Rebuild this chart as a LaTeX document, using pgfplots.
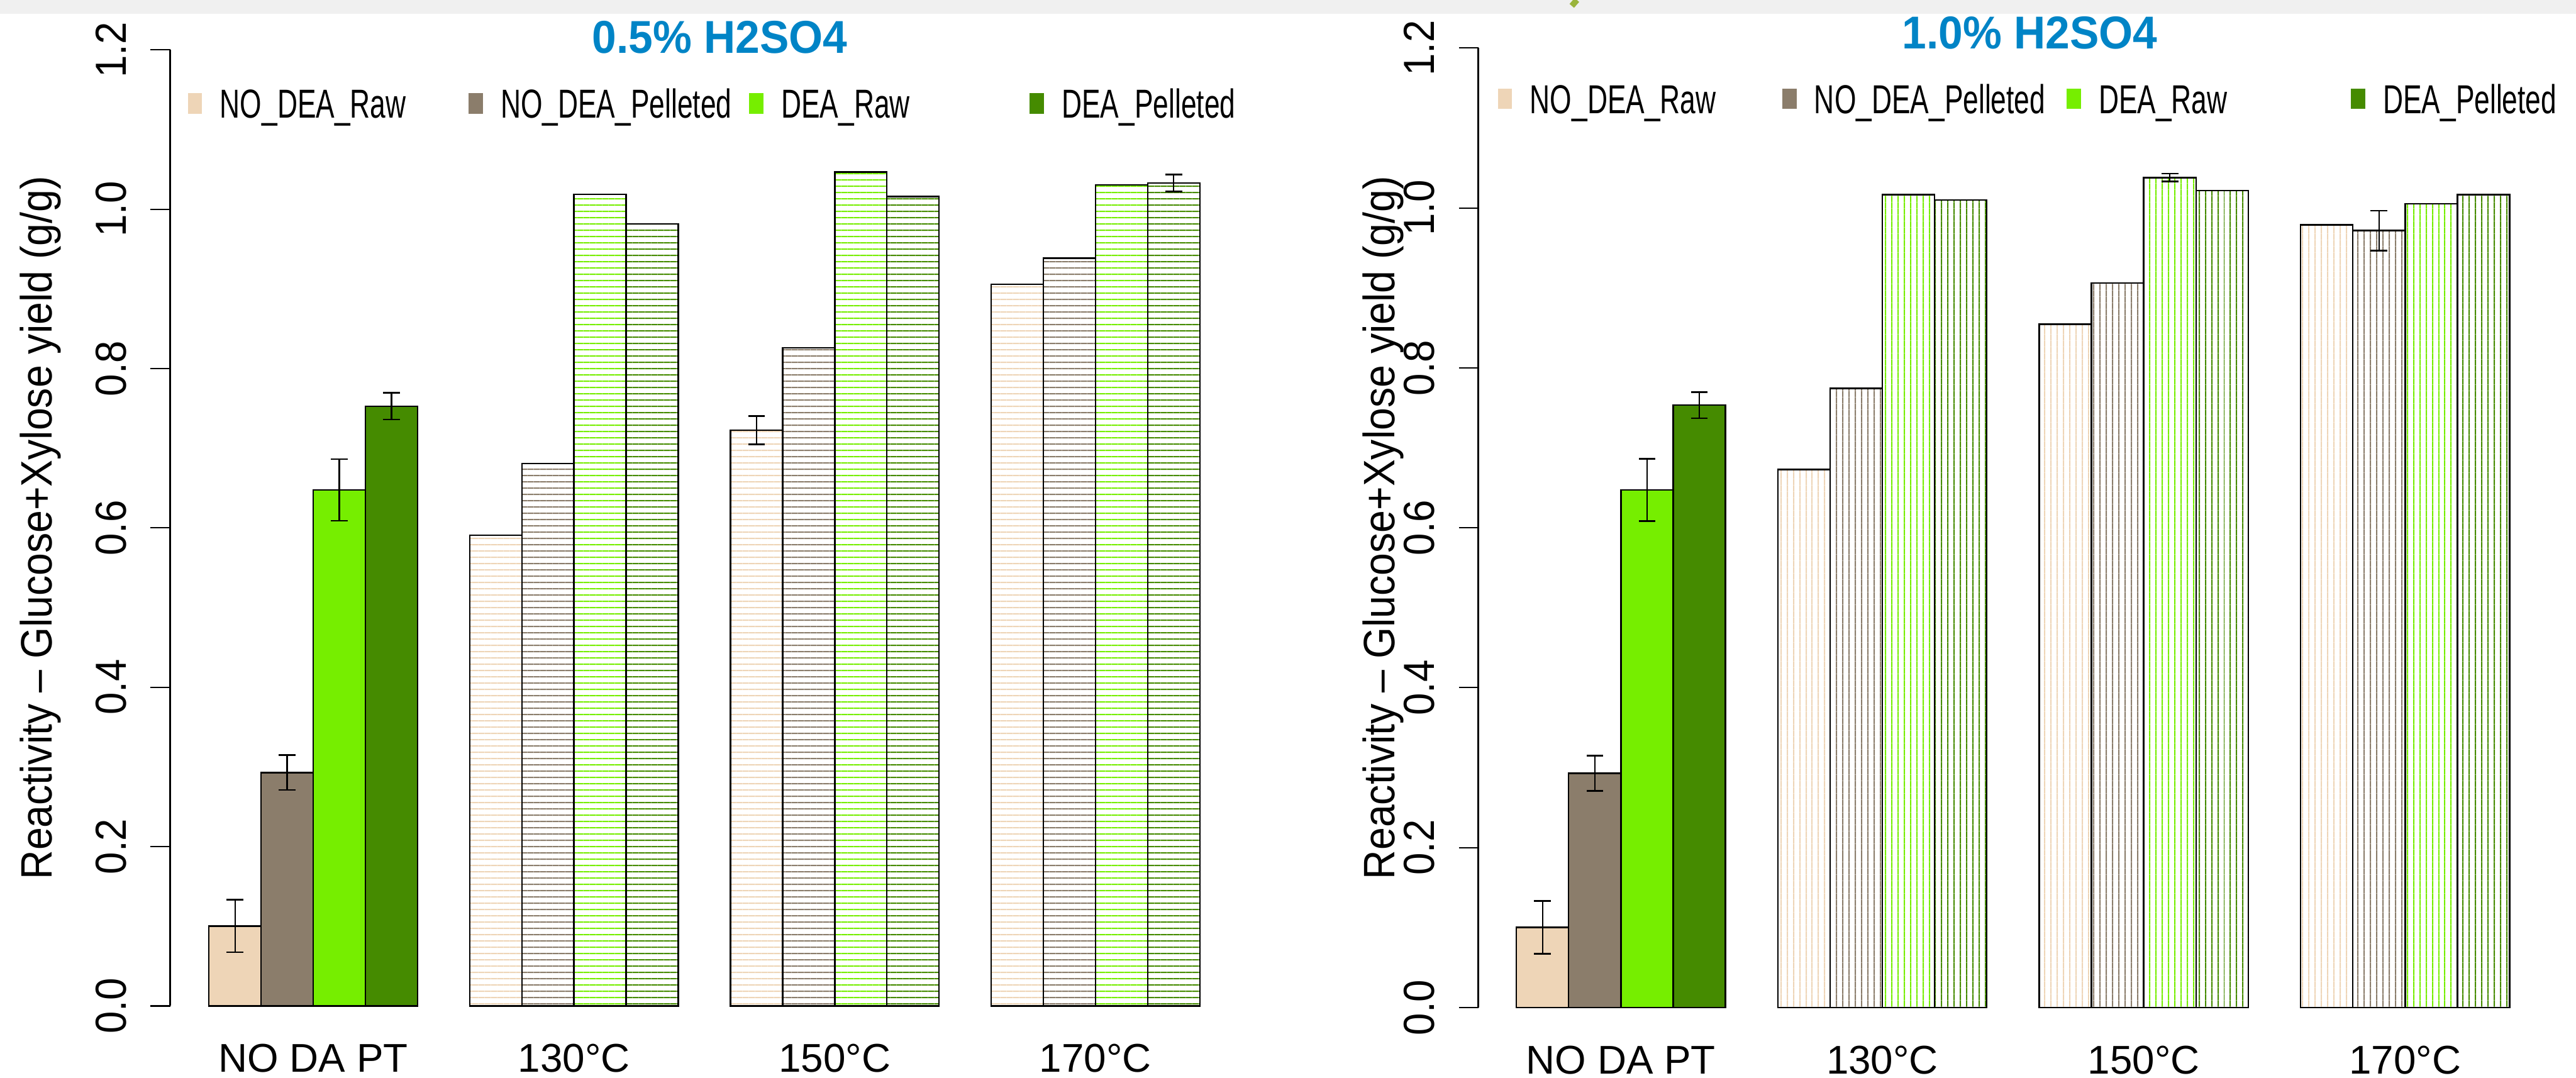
\documentclass[border=0pt]{standalone}
\usepackage{fontspec}
\setmainfont{Liberation Sans}
\usepackage{graphicx}
\usepackage{pgfplots}
\pgfplotsset{compat=1.18}
\usetikzlibrary{patterns.meta}
\definecolor{bqA}{HTML}{EED5B7}
\definecolor{bqB}{HTML}{8B7D6B}
\definecolor{chA}{HTML}{76EE00}
\definecolor{chB}{HTML}{458B00}
\definecolor{ttl}{HTML}{0084C6}
\definecolor{bggray}{HTML}{F0F0F0}
\definecolor{olv}{HTML}{9AB43C}
\newcommand\sq[1]{\scalebox{0.92}[1]{#1}}
\newcommand\leg[1]{\makebox[145.75pt][l]{\scalebox{0.69}[1]{#1}}}
\pgfplotsset{
  panel/.style={
    scale only axis, clip=false,
    xmax=20.76, ymin=0, ymax=1.2,
    axis y line*=left, axis x line*=bottom,
    x axis line style={draw=none},
    y axis line style={line width=1pt, -},
    tick align=outside, major tick length=11.5pt,
    ytick={0,0.2,0.4,0.6,0.8,1.0,1.2},
    yticklabels={{\sq{0.0}},{\sq{0.2}},{\sq{0.4}},{\sq{0.6}},{\sq{0.8}},{\sq{1.0}},{\sq{1.2}}},
    ytick style={line width=0.8pt, black},
    xtick={3,8,13,18},
    xticklabels={NO DA PT,130°C,150°C,170°C},
    xtick style={draw=none},
    yticklabel style={font=\fontsize{25.5}{30}\selectfont, rotate=90, anchor=base},
    yticklabel shift=14.25pt,
    xticklabel style={font=\fontsize{23.5}{28}\selectfont, anchor=base},
    xticklabel shift=27.25pt,
    legend image code/.code={\fill[#1,draw=none] (0pt,2.5pt) rectangle (8.25pt,14.5pt);},
    legend columns=4,
    legend style={draw=none, fill=none, inner sep=0pt, outer sep=0pt,
      column sep=0pt, cells={anchor=base west},
      nodes={inner sep=0pt, outer sep=0pt},
      font=\fontsize{23.7}{28}\selectfont,
      /tikz/every odd column/.append style={column sep=10.5pt}},
  },
  sb/.style={ybar, bar width=1, bar shift=0pt, draw=black, line width=0.9pt, fill=#1},
  hb/.style 2 args={ybar, bar width=1, bar shift=0pt, draw=black, line width=0.9pt,
    pattern={Lines[angle=#2, distance=3.62pt, line width=0.8pt]}, pattern color=#1, forget plot},
  eb/.style={forget plot, black, line width=0.85pt, mark=-, mark size=4.9pt,
    mark options={solid, line width=0.95pt}, unbounded coords=jump},
}
\begin{document}
\begin{tikzpicture}
\path[use as bounding box] (0,0) rectangle (1510.25pt,631.75pt);
\fill[bggray] (0,623.5pt) rectangle (1510.25pt,631.75pt);
\draw[olv, line width=3.5pt] (924.5pt,631.75pt) -- (921.5pt,628.3pt);
% ---------------- left panel: 0.5% H2SO4 ----------------
\begin{axis}[panel,
  at={(99.75pt,42pt)}, anchor=south west,
  width=626.9pt, height=560.5pt,
  xmin=0.256,
  ylabel={\sq{Reactivity – Glucose+Xylose yield (g/g)}},
  every axis y label/.style={at={(rel axis cs:0,0.5)}, anchor=base, xshift=-69.5pt, rotate=90, font=\fontsize{25.8}{30}\selectfont},
  title={\scalebox{0.95}[1]{\bfseries 0.5\% H2SO4}},
  every axis title/.style={at={(rel axis cs:0.514,1)}, anchor=base, yshift=-1.75pt, font=\fontsize{27}{32}\selectfont, text=ttl},
  legend style={at={(axis cs:0.6,1.1512)}, anchor=north west},
]
\addplot[sb=bqA] coordinates {(1.5,0.1004)}; \addlegendentry{\leg{NO\_DEA\_Raw}}
\addplot[sb=bqB] coordinates {(2.5,0.293)}; \addlegendentry{\leg{NO\_DEA\_Pelleted}}
\addplot[sb=chA] coordinates {(3.5,0.6477)}; \addlegendentry{\leg{DEA\_Raw}}
\addplot[sb=chB] coordinates {(4.5,0.7528)}; \addlegendentry{\leg{DEA\_Pelleted}}
\addplot[hb={bqA}{0}] coordinates {(6.5,0.591) (11.5,0.7228) (16.5,0.906)};
\addplot[hb={bqB}{0}] coordinates {(7.5,0.6807) (12.5,0.826) (17.5,0.9387)};
\addplot[hb={chA}{0}] coordinates {(8.5,1.0186) (13.5,1.0468) (18.5,1.0306)};
\addplot[hb={chB}{0}] coordinates {(9.5,0.9814) (14.5,1.016) (19.5,1.0329)};
% error bars: mean - sd to mean + sd
\addplot[eb] coordinates {
  (1.5,0.0674) (1.5,0.1334) (nan,nan)
  (2.5,0.271) (2.5,0.315) (nan,nan)
  (3.5,0.609) (3.5,0.6864) (nan,nan)
  (4.5,0.7361) (4.5,0.7695) (nan,nan)
  (11.5,0.7051) (11.5,0.7405) (nan,nan)
  (19.5,1.0224) (19.5,1.0434)
};
\end{axis}
% ---------------- right panel: 1.0% H2SO4 ----------------
\begin{axis}[panel,
  at={(866.75pt,41.1pt)}, anchor=south west,
  width=627.9pt, height=562.5pt,
  xmin=0.274,
  ylabel={\sq{Reactivity – Glucose+Xylose yield (g/g)}},
  every axis y label/.style={at={(rel axis cs:0,0.5)}, anchor=base, xshift=-49pt, rotate=90, font=\fontsize{25.8}{30}\selectfont},
  title={\scalebox{0.95}[1]{\bfseries 1.0\% H2SO4}},
  every axis title/.style={at={(rel axis cs:0.5148,1)}, anchor=base, yshift=-0.5pt, font=\fontsize{27}{32}\selectfont, text=ttl},
  legend style={at={(axis cs:0.65,1.1549)}, anchor=north west,
    /tikz/every even column/.append style={column sep=2.2pt}},
]
\addplot[sb=bqA] coordinates {(1.5,0.1004)}; \addlegendentry{\leg{NO\_DEA\_Raw}}
\addplot[sb=bqB] coordinates {(2.5,0.293)}; \addlegendentry{\leg{NO\_DEA\_Pelleted}}
\addplot[sb=chA] coordinates {(3.5,0.6474)}; \addlegendentry{\leg{DEA\_Raw}}
\addplot[sb=chB] coordinates {(4.5,0.7534)}; \addlegendentry{\leg{DEA\_Pelleted}}
\addplot[hb={bqA}{90}] coordinates {(6.5,0.673) (11.5,0.8545) (16.5,0.9789)};
\addplot[hb={bqB}{90}] coordinates {(7.5,0.7744) (12.5,0.9062) (17.5,0.9716)};
\addplot[hb={chA}{90}] coordinates {(8.5,1.0167) (13.5,1.038) (18.5,1.0051)};
\addplot[hb={chB}{90}] coordinates {(9.5,1.01) (14.5,1.0216) (19.5,1.0167)};
\addplot[eb] coordinates {
  (1.5,0.0674) (1.5,0.1334) (nan,nan)
  (2.5,0.271) (2.5,0.315) (nan,nan)
  (3.5,0.6084) (3.5,0.6864) (nan,nan)
  (4.5,0.7371) (4.5,0.7697) (nan,nan)
  (13.5,1.0332) (13.5,1.0428) (nan,nan)
  (17.5,0.9468) (17.5,0.9964)
};
\end{axis}
\end{tikzpicture}
\end{document}
